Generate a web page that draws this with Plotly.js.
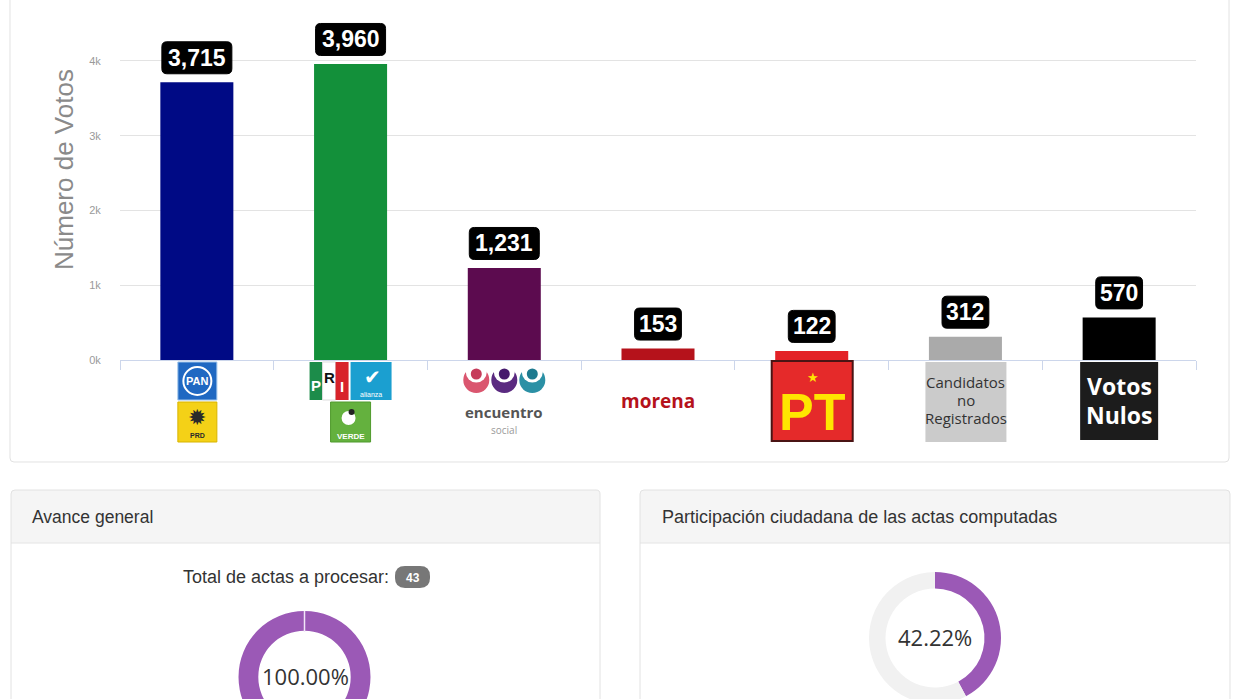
<!DOCTYPE html>
<html><head><meta charset="utf-8">
<script src="https://cdn.plot.ly/plotly-3.0.1.min.js"></script>
<style>html,body{margin:0;padding:0;background:#fff;overflow:hidden;width:1245px;height:699px}#chart{width:1245px;height:760px}</style>
</head><body><div id="chart"></div>
<script>
// ---------- data ----------
const categories = ['PAN-PRD', 'PRI-PVEM-NA', 'Encuentro Social', 'Morena', 'PT', 'Candidatos no Registrados', 'Votos Nulos'];
const votes = [3715, 3960, 1231, 153, 122, 312, 570];
const barColors = ['#000a85', '#13903a', '#5c0b4f', '#b5121b', '#e32227', '#aaaaaa', '#000000'];
const yTickVals = [0, 1000, 2000, 3000, 4000];
const yTickText = ['0k', '1k', '2k', '3k', '4k'];
const totalActas = 43;
const avanceValues = [43, 0];
const avanceLabels = ['Actas computadas', 'Actas pendientes'];
const participacionValues = [42.22, 57.78];
const participacionLabels = ['Participación', 'Resto'];

// ---------- helpers ----------
const W = 1245, H = 760;
const px = x => x / W;
const py = y => 1 - y / H;
const f = v => v.toFixed(5);
function rr(x0, y0, x1, y1, r, topOnly) {
  const rb = topOnly ? 0 : r;
  return 'M' + f(px(x0 + r)) + ',' + f(py(y0)) +
    ' L' + f(px(x1 - r)) + ',' + f(py(y0)) +
    ' Q' + f(px(x1)) + ',' + f(py(y0)) + ' ' + f(px(x1)) + ',' + f(py(y0 + r)) +
    ' L' + f(px(x1)) + ',' + f(py(y1 - rb)) +
    ' Q' + f(px(x1)) + ',' + f(py(y1)) + ' ' + f(px(x1 - rb)) + ',' + f(py(y1)) +
    ' L' + f(px(x0 + rb)) + ',' + f(py(y1)) +
    ' Q' + f(px(x0)) + ',' + f(py(y1)) + ' ' + f(px(x0)) + ',' + f(py(y1 - rb)) +
    ' L' + f(px(x0)) + ',' + f(py(y0 + r)) +
    ' Q' + f(px(x0)) + ',' + f(py(y0)) + ' ' + f(px(x0 + r)) + ',' + f(py(y0)) + ' Z';
}
const shapes = [];
const annotations = [];

function card(x0, y0, x1, y1, headerBottom) {
  shapes.push({type: 'path', xref: 'paper', yref: 'paper', path: rr(x0, y0, x1, y1, 4), fillcolor: '#ffffff', line: {width: 0}, layer: 'below'});
  if (headerBottom) {
    shapes.push({type: 'path', xref: 'paper', yref: 'paper', path: rr(x0, y0, x1, headerBottom, 4, true), fillcolor: '#f5f5f5', line: {width: 0}, layer: 'below'});
    shapes.push({type: 'line', xref: 'paper', yref: 'paper', x0: px(x0), x1: px(x1), y0: py(headerBottom), y1: py(headerBottom), line: {color: '#e4e4e4', width: 1}, layer: 'below'});
  }
  shapes.push({type: 'path', xref: 'paper', yref: 'paper', path: rr(x0, y0, x1, y1, 4), fillcolor: 'rgba(0,0,0,0)', line: {color: '#e2e2e2', width: 1}, layer: 'below'});
}
card(10, -20, 1229, 462);
card(11, 490, 600, 790, 543);
card(640, 490, 1230, 790, 543);

function pText(x, y, text, size, color, xanchor, family, angle) {
  annotations.push({xref: 'paper', yref: 'paper', x: px(x), y: py(y), text: text, showarrow: false,
    xanchor: xanchor || 'center', yanchor: 'middle', textangle: angle || 0,
    font: {size: size, color: color, family: family || 'Liberation Sans, Arial, sans-serif'}});
}

// logo helpers (pixel offsets relative to category centre / x axis line)
function lRect(i, x0, x1, y0, y1, fill, lineColor, lw) {
  shapes.push({type: 'rect', xref: 'x', yref: 'y domain', xsizemode: 'pixel', ysizemode: 'pixel', xanchor: i, yanchor: 0,
    x0: x0, x1: x1, y0: y0, y1: y1, fillcolor: fill, line: {color: lineColor || fill, width: lw || 0}, layer: 'above'});
}
function lCircle(i, cx, cy, r, fill, lineColor, lw) {
  shapes.push({type: 'circle', xref: 'x', yref: 'y domain', xsizemode: 'pixel', ysizemode: 'pixel', xanchor: i, yanchor: 0,
    x0: cx - r, x1: cx + r, y0: cy - r, y1: cy + r, fillcolor: fill, line: {color: lineColor || fill, width: lw || 0}, layer: 'above'});
}
function lText(i, dx, dy, text, size, color, family) {
  annotations.push({xref: 'x', yref: 'y', x: categories[i], y: 0, xshift: dx, yshift: dy, text: text, showarrow: false,
    xanchor: 'center', yanchor: 'middle', font: {size: size, color: color, family: family || 'Open Sans, sans-serif'}});
}

// 0: PAN / PRD
lRect(0, -19, 20, -2, -40, '#1f68c2', '#9cc2ea', 1);
lCircle(0, 0.5, -21, 14, 'rgba(0,0,0,0)', '#ffffff', 2);
lText(0, 0.5, -21, '<b>PAN</b>', 11, '#ffffff', 'Liberation Sans, Arial');
lRect(0, -19, 20, -42, -82, '#f4d117', '#d8b400', 1);
lText(0, 0.5, -57, '✹', 22, '#2a2a2a', 'DejaVu Sans');
lText(0, 0.5, -75, '<b>PRD</b>', 7, '#2a2a2a', 'Liberation Sans, Arial');
// 1: PRI / Nueva Alianza / Verde
lRect(1, -41, -28, -2, -40, '#1c8c4a');
lRect(1, -28, -15, -2, -40, '#ffffff', '#dddddd', 1);
lRect(1, -15, -2, -2, -40, '#d8232a');
lText(1, -34.5, -25, '<b>P</b>', 15, '#ffffff', 'Liberation Sans, Arial');
lText(1, -21.5, -17, '<b>R</b>', 15, '#111111', 'Liberation Sans, Arial');
lText(1, -8.5, -26, '<b>I</b>', 15, '#ffffff', 'Liberation Sans, Arial');
lRect(1, 0, 41, -2, -40, '#1b9fd0');
lText(1, 22, -17, '✔', 20, '#ffffff', 'DejaVu Sans');
lText(1, 20.5, -34, 'alianza', 7, '#ffffff', 'Liberation Sans, Arial');
lRect(1, -20, 20, -42, -82, '#64b13e', '#4f9a2c', 1);
lCircle(1, -2, -58, 7, '#ffffff');
lCircle(1, 1, -52, 3, '#222222');
lText(1, 0, -76, '<b>VERDE</b>', 8, '#ffffff', 'Liberation Sans, Arial');
// 2: encuentro social
[[-28, '#da566f', '#c63c5b'], [0, '#5a2a80', '#461a6c'], [28, '#2b90a5', '#1e7a8f']].forEach(function (c) {
  lCircle(2, c[0], -20, 13, c[1]);
  lCircle(2, c[0], -12, 10.5, '#ffffff');
  lCircle(2, c[0], -14, 5.5, c[2]);
});
lText(2, 0, -52, '<b>encuentro</b>', 15, '#555555');
lText(2, 0, -70, 'social', 10, '#9a9a9a');
// 3: morena
lText(3, 0, -41, '<b>morena</b>', 19, '#b5121b');
// 4: PT
lRect(4, -40, 41, -1, -81, '#e52a2a', '#4a1414', 2);
lText(4, 1, -17, '★', 13, '#ffe600', 'DejaVu Sans');
lText(4, 0.5, -52, '<b>PT</b>', 52, '#ffe600', 'Liberation Sans, Arial');
// 5: Candidatos no Registrados
lRect(5, -40, 41, -2, -82, '#cbcbcb');
lText(5, 0.5, -22, 'Candidatos', 15, '#333333');
lText(5, 0.5, -40, 'no', 15, '#333333');
lText(5, 0.5, -58, 'Registrados', 15, '#333333');
// 6: Votos Nulos
lRect(6, -39, 39, -2, -80, '#1c1c1c');
lText(6, 0, -26, '<b>Votos</b>', 23, '#ffffff');
lText(6, 0, -55, '<b>Nulos</b>', 23, '#ffffff');

// value label boxes (rounded) + text
votes.forEach(function (v, i) {
  const txt = v.toLocaleString('en-US');
  const w = txt.length * 11.6 + 12;
  const x0 = -w / 2, x1 = w / 2, y0 = 8.5, y1 = 40.5, r = 5;
  const p = 'M' + (x0 + r) + ',' + y0 + ' L' + (x1 - r) + ',' + y0 + ' Q' + x1 + ',' + y0 + ' ' + x1 + ',' + (y0 + r) +
    ' L' + x1 + ',' + (y1 - r) + ' Q' + x1 + ',' + y1 + ' ' + (x1 - r) + ',' + y1 +
    ' L' + (x0 + r) + ',' + y1 + ' Q' + x0 + ',' + y1 + ' ' + x0 + ',' + (y1 - r) +
    ' L' + x0 + ',' + (y0 + r) + ' Q' + x0 + ',' + y0 + ' ' + (x0 + r) + ',' + y0 + ' Z';
  shapes.push({type: 'path', xref: 'x', yref: 'y', xsizemode: 'pixel', ysizemode: 'pixel', xanchor: i, yanchor: v,
    path: p, fillcolor: '#000000', line: {color: '#000000', width: 1}, layer: 'above'});
  annotations.push({xref: 'x', yref: 'y', x: categories[i], y: v, yshift: 24.5, text: '<b>' + txt + '</b>', showarrow: false,
    xanchor: 'center', yanchor: 'middle', font: {size: 23, color: '#ffffff', family: 'Liberation Sans, Arial'}});
});

// axis title
pText(64, 170, 'Número de Votos', 26, '#8a8a8a', 'center', null, -90);

// lower panels text
pText(30, 517, 'Avance general', 17.5, '#333333', 'left');
pText(660, 517, 'Participación ciudadana de las actas computadas', 18, '#333333', 'left');
pText(391, 577, 'Total de actas a procesar:', 18, '#333333', 'right');
shapes.push({type: 'path', xref: 'paper', yref: 'paper', path: rr(395, 566, 430, 588, 10), fillcolor: '#777777', line: {width: 0}, layer: 'below'});
pText(412.5, 577.5, '<b>' + totalActas + '</b>', 12, '#ffffff');
const avancePct = (avanceValues[0] / totalActas * 100).toFixed(2) + '%';
const participacionPct = participacionValues[0].toFixed(2) + '%';
pText(305, 676, avancePct, 22, '#333333', 'center', 'Open Sans, sans-serif');
pText(935, 637, participacionPct, 22, '#333333', 'center', 'Open Sans, sans-serif');
// thin gap at top of the full ring
shapes.push({type: 'line', xref: 'paper', yref: 'paper', x0: px(304.5), x1: px(304.5), y0: py(611), y1: py(632), line: {color: '#f3e6f8', width: 1.5}, layer: 'above'});

// ---------- traces ----------
const barTrace = {
  type: 'bar', x: categories, y: votes, width: 0.475,
  marker: {color: barColors, line: {width: 0}},
  hoverinfo: 'none', showlegend: false, xaxis: 'x', yaxis: 'y'
};
const pie1 = {
  type: 'pie', values: avanceValues, labels: avanceLabels, sort: false, direction: 'clockwise', rotation: 0,
  hole: 0.7, textinfo: 'none', hoverinfo: 'none', showlegend: false,
  marker: {colors: ['#9b59b6', '#f0f0f0'], line: {width: 0}},
  domain: {x: [px(238.5), px(370.5)], y: [py(743), py(611)]}
};
const pie2 = {
  type: 'pie', values: participacionValues, labels: participacionLabels, sort: false, direction: 'clockwise', rotation: 0,
  hole: 0.75, textinfo: 'none', hoverinfo: 'none', showlegend: false,
  marker: {colors: ['#9b59b6', '#f1f1f1'], line: {width: 0}},
  domain: {x: [px(869), px(1001)], y: [py(704), py(572)]}
};

const layout = {
  width: W, height: H, margin: {l: 0, r: 0, t: 0, b: 0},
  paper_bgcolor: '#ffffff', plot_bgcolor: 'rgba(0,0,0,0)',
  font: {family: 'Liberation Sans, Arial, sans-serif'},
  showlegend: false, hovermode: false,
  xaxis: {
    type: 'category', domain: [px(120), px(1196)], range: [-0.5, 6.5], anchor: 'y',
    showgrid: false, zeroline: false, showticklabels: false,
    showline: true, linecolor: '#ccd6eb', linewidth: 1,
    ticks: 'outside', tickson: 'boundaries', ticklen: 9, tickcolor: '#ccd6eb', tickwidth: 1, fixedrange: true
  },
  yaxis: {
    domain: [py(360), py(15)], range: [0, 4615], anchor: 'x',
    tickvals: yTickVals, ticktext: yTickText, tickfont: {size: 11, color: '#9a9a9a'},
    ticks: 'outside', ticklen: 16, tickcolor: 'rgba(0,0,0,0)',
    showgrid: true, gridcolor: '#e3e3e3', gridwidth: 1, zeroline: false, showline: false, fixedrange: true
  },
  shapes: shapes,
  annotations: annotations
};

Plotly.newPlot('chart', [barTrace, pie1, pie2], layout, {staticPlot: true, displayModeBar: false});
</script>
</body></html>
